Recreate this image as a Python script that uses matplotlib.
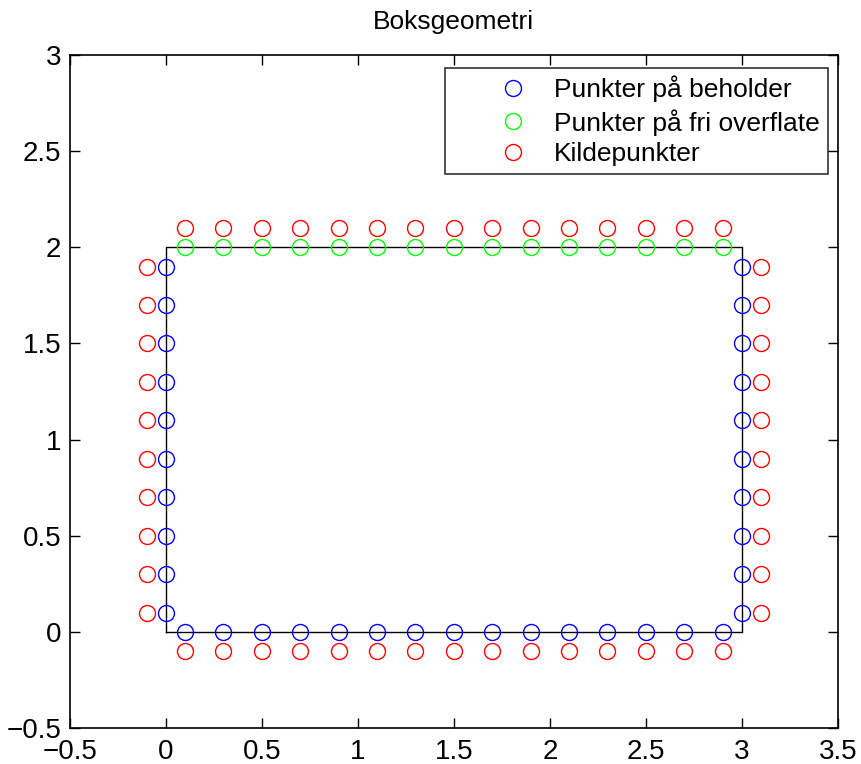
import matplotlib
matplotlib.use('Agg')
import matplotlib.pyplot as plt

plt.rcParams['font.family'] = ['Liberation Sans', 'DejaVu Sans']
plt.rcParams['axes.unicode_minus'] = True

# Boksens hjørner
boks_x = [0, 3, 3, 0, 0]
boks_y = [0, 0, 2, 2, 0]

# Punkter langs veggene og overflaten
vegg_y = [0.1, 0.3, 0.5, 0.7, 0.9, 1.1, 1.3, 1.5, 1.7, 1.9]
bunn_x = [0.1, 0.3, 0.5, 0.7, 0.9, 1.1, 1.3, 1.5, 1.7, 1.9, 2.1, 2.3, 2.5, 2.7, 2.9]
venstre_x = 0.0
hoyre_x = 3.0
bunn_y = 0.0
topp_y = 2.0
avstand = 0.1  # kildepunkter ligger litt utenfor

fig = plt.figure(figsize=(8.62, 7.64), dpi=100)
ax = fig.add_axes([0.081, 0.047, 0.891, 0.881])

ax.plot(boks_x, boks_y, color='k', lw=1)

beh_x = [venstre_x] * len(vegg_y) + bunn_x + [hoyre_x] * len(vegg_y)
beh_y = vegg_y + [bunn_y] * len(bunn_x) + vegg_y
ms = 11.5
ax.plot(beh_x, beh_y, 'o', mfc='none', mec='b', ms=ms, mew=1, label='Punkter på beholder')

ax.plot(bunn_x, [topp_y] * len(bunn_x), 'o', mfc='none', mec='#00ff00', ms=ms, mew=1,
        label='Punkter på fri overflate')

kilde_x = ([venstre_x - avstand] * len(vegg_y) + bunn_x + [hoyre_x + avstand] * len(vegg_y)
           + bunn_x)
kilde_y = (vegg_y + [bunn_y - avstand] * len(bunn_x) + vegg_y
           + [topp_y + avstand] * len(bunn_x))
ax.plot(kilde_x, kilde_y, 'o', mfc='none', mec='r', ms=ms, mew=1, label='Kildepunkter')

ax.set_xlim(-0.5, 3.5)
ax.set_ylim(-0.5, 3)
ax.set_xticks([-0.5, 0, 0.5, 1, 1.5, 2, 2.5, 3, 3.5])
ax.set_yticks([-0.5, 0, 0.5, 1, 1.5, 2, 2.5, 3])
ax.set_xticklabels(['−0.5', '0', '0.5', '1', '1.5', '2', '2.5', '3', '3.5'])
ax.set_yticklabels(['−0.5', '0', '0.5', '1', '1.5', '2', '2.5', '3'])
ax.tick_params(direction='in', length=7, width=1, labelsize=20, top=True, right=True, pad=6)
ax.tick_params(axis='x', pad=8)
for s in ax.spines.values():
    s.set_linewidth(1.2)

ax.set_title('Boksgeometri', fontsize=19, pad=19)

leg = ax.legend(loc='upper right', fontsize=19, frameon=True, fancybox=False,
                edgecolor='k', handlelength=4.6, handletextpad=-0.75, borderpad=0.3,
                labelspacing=0.25, borderaxespad=0, bbox_to_anchor=(0.987, 0.981))
leg.get_frame().set_linewidth(1.2)

fig.savefig('out.png', dpi=100)
